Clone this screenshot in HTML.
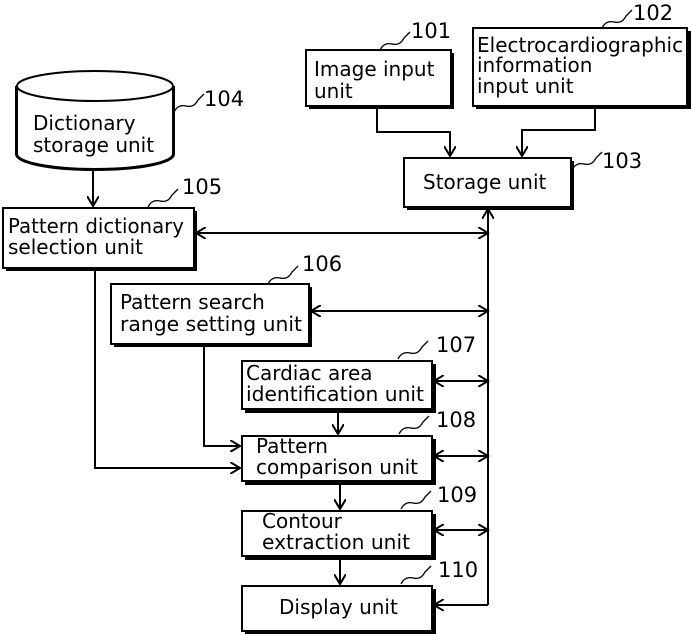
<!DOCTYPE html>
<html><head><style>
html,body{margin:0;padding:0;background:#fff;}
svg{display:block;}
text{font-family:"DejaVu Sans","Liberation Sans",sans-serif;font-size:20px;fill:#000;}
text.n{font-size:21px;}
</style></head><body>
<svg width="691" height="634" viewBox="0 0 691 634" xmlns="http://www.w3.org/2000/svg">
<defs>
<marker id="a" markerWidth="12" markerHeight="12" refX="10" refY="6" orient="auto-start-reverse" markerUnits="userSpaceOnUse">
<path d="M0,0 L10,6 L0,12" fill="none" stroke="#000" stroke-width="2"/>
</marker>
</defs>
<g fill="#fff" stroke="#000" stroke-width="2">
<g fill="#000" stroke="none">
<rect x="309" y="53" width="145" height="56"/>
<rect x="476" y="31" width="215" height="78"/>
<rect x="407" y="161" width="167" height="49"/>
<rect x="6" y="211" width="191" height="60"/>
<rect x="114" y="287" width="198" height="60"/>
<rect x="245" y="364" width="191" height="49"/>
<rect x="245" y="439" width="191" height="46"/>
<rect x="245" y="514" width="191" height="46"/>
<rect x="245" y="589" width="191" height="46"/>
</g>
<rect x="306" y="50" width="145" height="56"/>
<rect x="473" y="28" width="214" height="78"/>
<rect x="404" y="158" width="167" height="49"/>
<rect x="3" y="208" width="191" height="60"/>
<rect x="111" y="284" width="198" height="60"/>
<rect x="242" y="361" width="190" height="48"/>
<rect x="242" y="436" width="190" height="45"/>
<rect x="242" y="511" width="190" height="45"/>
<rect x="242" y="586" width="190" height="45"/>
<path d="M17,86 L17,154 A78,15 0 0 0 173,154 L173,86" stroke-width="4"/>
<path d="M17,86 L17,154 A78,15 0 0 0 173,154 L173,86"/>
<ellipse cx="95" cy="86" rx="78" ry="15"/>
</g>
<g fill="none" stroke="#000" stroke-width="1.3">
<path d="M380,50 q4,-8 12,-6 q8,2 12,-6 l6,-6"/>
<path d="M602,28 q4,-8 12,-6 q8,2 12,-6 l6,-6"/>
<path d="M572,170 q4,-8 12,-6 q8,2 12,-6 l6,-6"/>
<path d="M174,112 q4,-8 12,-6 q8,2 12,-6 l6,-6"/>
<path d="M148,207 q4,-8 12,-6 q8,2 12,-6 l6,-6"/>
<path d="M268,284 q4,-8 12,-6 q8,2 12,-6 l6,-6"/>
<path d="M398,359 q4,-8 12,-6 q8,2 12,-6 l6,-6"/>
<path d="M399,434 q4,-8 12,-6 q8,2 12,-6 l6,-6"/>
<path d="M401,509 q4,-8 12,-6 q8,2 12,-6 l6,-6"/>
<path d="M401,584 q4,-8 12,-6 q8,2 12,-6 l6,-6"/>
</g>
<g fill="none" stroke="#000" stroke-width="2">
<path d="M377,106 V132 H450 V156" marker-end="url(#a)"/>
<path d="M595,106 V130 H522 V156" marker-end="url(#a)"/>
<path d="M93,170 V206" marker-end="url(#a)"/>
<path d="M488,605 V209" marker-end="url(#a)"/>
<path d="M196,233 H488" marker-start="url(#a)" marker-end="url(#a)"/>
<path d="M311,311 H488" marker-start="url(#a)" marker-end="url(#a)"/>
<path d="M434,381 H488" marker-start="url(#a)" marker-end="url(#a)"/>
<path d="M434,456 H488" marker-start="url(#a)" marker-end="url(#a)"/>
<path d="M434,530 H488" marker-start="url(#a)" marker-end="url(#a)"/>
<path d="M488,605 H434" marker-end="url(#a)"/>
<path d="M95,268 V468 H240" marker-end="url(#a)"/>
<path d="M204,344 V446 H240" marker-end="url(#a)"/>
<path d="M338,409 V434" marker-end="url(#a)"/>
<path d="M340,481 V509" marker-end="url(#a)"/>
<path d="M340,556 V584" marker-end="url(#a)"/>
</g>
<text class="n" x="411" y="38">101</text>
<text class="n" x="633" y="20">102</text>
<text class="n" x="602" y="168">103</text>
<text class="n" x="204" y="106">104</text>
<text class="n" x="182" y="194">105</text>
<text class="n" x="302" y="271">106</text>
<text class="n" x="436" y="352">107</text>
<text class="n" x="436" y="427">108</text>
<text class="n" x="437" y="502">109</text>
<text class="n" x="438" y="577">110</text>
<text x="314" y="76">Image input</text>
<text x="314" y="98">unit</text>
<text x="477" y="52">Electrocardiographic</text>
<text x="477" y="72">information</text>
<text x="477" y="93">input unit</text>
<text x="423" y="189">Storage unit</text>
<text x="33" y="130">Dictionary</text>
<text x="33" y="152">storage unit</text>
<text x="8" y="233" textLength="176" lengthAdjust="spacingAndGlyphs">Pattern dictionary</text>
<text x="8" y="254">selection unit</text>
<text x="120" y="309">Pattern search</text>
<text x="120" y="331" textLength="182" lengthAdjust="spacingAndGlyphs">range setting unit</text>
<text x="246" y="380">Cardiac area</text>
<text x="246" y="401" textLength="178" lengthAdjust="spacingAndGlyphs">identification unit</text>
<text x="256" y="453">Pattern</text>
<text x="256" y="474" textLength="162" lengthAdjust="spacingAndGlyphs">comparison unit</text>
<text x="262" y="528">Contour</text>
<text x="262" y="549" textLength="148" lengthAdjust="spacingAndGlyphs">extraction unit</text>
<text x="279" y="614">Display unit</text>
</svg>
</body></html>
